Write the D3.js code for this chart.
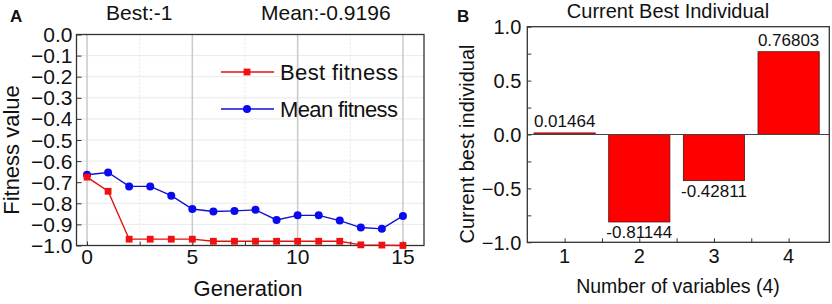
<!DOCTYPE html>
<html>
<head>
<meta charset="utf-8">
<script src="https://cdn.jsdelivr.net/npm/d3@7"></script>
<style>
  body { margin: 0; background: #fff; }
  svg text { font-family: "Liberation Sans", Arial, sans-serif; fill: #111; }
</style>
</head>
<body>
<div id="chart"></div>
<script>
// ---- data (panel A) ----
const generations = [0, 1, 2, 3, 4, 5, 6, 7, 8, 9, 10, 11, 12, 13, 14, 15];
const bestFitness = [-0.676, -0.743, -0.970, -0.970, -0.970, -0.970, -0.980, -0.980, -0.980, -0.980, -0.980, -0.980, -0.980, -0.997, -0.998, -1.0];
const meanFitness = [-0.665, -0.654, -0.720, -0.720, -0.764, -0.827, -0.839, -0.836, -0.831, -0.879, -0.857, -0.857, -0.882, -0.915, -0.921, -0.860];
const genTicks = [0, 5, 10, 15];
const genMinorTicks = [2.5, 7.5, 12.5];
const fitTicks = [0, -0.1, -0.2, -0.3, -0.4, -0.5, -0.6, -0.7, -0.8, -0.9, -1.0];

// ---- data (panel B) ----
const variables = [1, 2, 3, 4];
const bestIndividual = [0.01464, -0.81144, -0.42811, 0.76803];
const indivTicks = [1.0, 0.5, 0.0, -0.5, -1.0];
const indivMinorTicks = [0.75, 0.25, -0.25, -0.75];
const varMinorTicks = [1.5, 2.5, 3.5];

const W = 832, H = 304;
const svg = d3.select("#chart").append("svg")
    .attr("width", W)
    .attr("height", H);

const fmt1 = d3.format(".1f");

// =============== Panel A ===============
const A = { left: 76.5, right: 424, top: 34.5, bottom: 245.5 };

const xA = d3.scaleLinear().domain([-0.5, 16]).range([A.left, A.right]);
const yA = d3.scaleLinear().domain([-1, 0]).range([A.bottom, A.top]);

const gA = svg.append("g");

// horizontal grid
gA.selectAll(".hgrid").data(fitTicks.slice(1, -1)).enter().append("line")
    .attr("x1", A.left).attr("x2", A.right)
    .attr("y1", d => yA(d)).attr("y2", d => yA(d))
    .attr("stroke", "#e9e9e9").attr("stroke-width", 1);

// minor vertical grid
gA.selectAll(".vgridm").data(genMinorTicks).enter().append("line")
    .attr("x1", d => xA(d)).attr("x2", d => xA(d))
    .attr("y1", A.top).attr("y2", A.bottom)
    .attr("stroke", "#e6e6e6").attr("stroke-width", 1)
    .attr("stroke-dasharray", "2,2");

// major vertical grid
gA.selectAll(".vgrid").data(genTicks).enter().append("line")
    .attr("x1", d => xA(d)).attr("x2", d => xA(d))
    .attr("y1", A.top).attr("y2", A.bottom)
    .attr("stroke", "#c9c9c9").attr("stroke-width", 1.5);

// axes (ticks pointing inward)
gA.append("g")
    .attr("transform", `translate(${A.left},0)`)
    .call(d3.axisRight(yA).tickValues(fitTicks).tickSize(5).tickFormat(""))
    .call(g => g.select(".domain").remove())
    .selectAll("line").attr("stroke", "#333");

gA.selectAll(".ylab").data(fitTicks).enter().append("text")
    .attr("x", A.left - 4)
    .attr("y", d => yA(d))
    .attr("dy", "0.36em")
    .attr("text-anchor", "end")
    .attr("font-size", 21)
    .text(d => fmt1(d));

gA.append("g")
    .attr("transform", `translate(0,${A.bottom})`)
    .call(d3.axisTop(xA).tickValues(genTicks.concat(genMinorTicks)).tickSize(4).tickFormat(""))
    .call(g => g.select(".domain").remove())
    .selectAll("line").attr("stroke", "#333");

gA.selectAll(".xlab").data(genTicks).enter().append("text")
    .attr("x", d => xA(d))
    .attr("y", 264)
    .attr("text-anchor", "middle")
    .attr("font-size", 21)
    .text(d => d);

// frame
gA.append("rect")
    .attr("x", A.left).attr("y", A.top)
    .attr("width", A.right - A.left).attr("height", A.bottom - A.top)
    .attr("fill", "none").attr("stroke", "#333").attr("stroke-width", 1.3);

// lines
const bestData = generations.map((g, i) => ({ g: g, v: bestFitness[i] }));
const meanData = generations.map((g, i) => ({ g: g, v: meanFitness[i] }));
const lineA = d3.line().x(d => xA(d.g)).y(d => yA(d.v));

gA.append("path").datum(meanData)
    .attr("d", lineA).attr("fill", "none")
    .attr("stroke", "#1010d0").attr("stroke-width", 1.4);
gA.selectAll(".meanPt").data(meanData).enter().append("circle")
    .attr("cx", d => xA(d.g)).attr("cy", d => yA(d.v))
    .attr("r", 4).attr("fill", "#0a0af0");

gA.append("path").datum(bestData)
    .attr("d", lineA).attr("fill", "none")
    .attr("stroke", "#e01010").attr("stroke-width", 1.4);
gA.selectAll(".bestPt").data(bestData).enter().append("rect")
    .attr("x", d => xA(d.g) - 3.4).attr("y", d => yA(d.v) - 3.4)
    .attr("width", 6.8).attr("height", 6.8).attr("fill", "#f01010");

// legend
const legend = [
    { label: "Best fitness", color: "#e01010", fill: "#f01010", shape: "square", y: 72 },
    { label: "Mean fitness", color: "#1010d0", fill: "#0a0af0", shape: "circle", y: 109 }
];
legend.forEach(l => {
    gA.append("line").attr("x1", 221).attr("x2", 274)
        .attr("y1", l.y).attr("y2", l.y)
        .attr("stroke", l.color).attr("stroke-width", 1.4);
    if (l.shape === "square") {
        gA.append("rect").attr("x", 247 - 3.4).attr("y", l.y - 3.4)
            .attr("width", 6.8).attr("height", 6.8).attr("fill", l.fill);
    } else {
        gA.append("circle").attr("cx", 247).attr("cy", l.y).attr("r", 4).attr("fill", l.fill);
    }
    gA.append("text").attr("x", 280).attr("y", l.y).attr("dy", "0.36em")
        .attr("font-size", 22).attr("textLength", 118).text(l.label);
});

// titles / labels
gA.append("text").attr("x", 106).attr("y", 20).attr("font-size", 21).text("Best:-1");
gA.append("text").attr("x", 261).attr("y", 20).attr("font-size", 21).text("Mean:-0.9196");
gA.append("text").attr("x", 10).attr("y", 22).attr("font-size", 17)
    .attr("font-weight", "bold").text("A");
gA.append("text").attr("x", 248).attr("y", 296).attr("text-anchor", "middle")
    .attr("font-size", 22).text("Generation");
gA.append("text")
    .attr("transform", `translate(19,150) rotate(-90)`)
    .attr("text-anchor", "middle")
    .attr("font-size", 22).text("Fitness value");

// =============== Panel B ===============
const B = { left: 527.3, right: 829.3, top: 26.7, bottom: 242.3 };

const xB = d3.scaleLinear().domain([0.5, 4.545]).range([B.left, B.right]);
const yB = d3.scaleLinear().domain([-1, 1]).range([B.bottom, B.top]);
const barW = 0.82;

const gB = svg.append("g");

// bars
gB.selectAll(".bar").data(variables).enter().append("rect")
    .attr("x", d => xB(d - barW / 2))
    .attr("width", xB(barW) - xB(0))
    .attr("y", (d, i) => yB(Math.max(0, bestIndividual[i])))
    .attr("height", (d, i) => Math.abs(yB(bestIndividual[i]) - yB(0)))
    .attr("fill", "#ff0000")
    .attr("stroke", "#5a1010").attr("stroke-width", 0.8);

// zero line
gB.append("line")
    .attr("x1", B.left).attr("x2", B.right)
    .attr("y1", yB(0)).attr("y2", yB(0))
    .attr("stroke", "#444").attr("stroke-width", 1);

// axes ticks inward
gB.append("g")
    .attr("transform", `translate(${B.left},0)`)
    .call(d3.axisRight(yB).tickValues(indivTicks.concat(indivMinorTicks)).tickSize(4).tickFormat(""))
    .call(g => g.select(".domain").remove())
    .selectAll("line").attr("stroke", "#333");

gB.selectAll(".ylabB").data(indivTicks).enter().append("text")
    .attr("x", B.left - 6)
    .attr("y", d => yB(d))
    .attr("dy", "0.36em")
    .attr("text-anchor", "end")
    .attr("font-size", 20)
    .text(d => fmt1(d));

gB.append("g")
    .attr("transform", `translate(0,${B.bottom})`)
    .call(d3.axisTop(xB).tickValues(variables.concat(varMinorTicks)).tickSize(4).tickFormat(""))
    .call(g => g.select(".domain").remove())
    .selectAll("line").attr("stroke", "#333");

gB.selectAll(".xlabB").data(variables).enter().append("text")
    .attr("x", d => xB(d))
    .attr("y", 263)
    .attr("text-anchor", "middle")
    .attr("font-size", 20)
    .text(d => d);

// frame
gB.append("rect")
    .attr("x", B.left).attr("y", B.top)
    .attr("width", B.right - B.left).attr("height", B.bottom - B.top)
    .attr("fill", "none").attr("stroke", "#333").attr("stroke-width", 1.3);

// value labels
gB.selectAll(".val").data(variables).enter().append("text")
    .attr("x", d => xB(d))
    .attr("y", (d, i) => bestIndividual[i] >= 0 ? yB(bestIndividual[i]) - 6 : yB(bestIndividual[i]) + 16)
    .attr("text-anchor", "middle")
    .attr("font-size", 17)
    .text((d, i) => bestIndividual[i].toFixed(5));

// titles / labels
gB.append("text").attr("x", 668).attr("y", 18).attr("text-anchor", "middle")
    .attr("font-size", 20).text("Current Best Individual");
gB.append("text").attr("x", 457).attr("y", 22).attr("font-size", 17)
    .attr("font-weight", "bold").text("B");
gB.append("text").attr("x", 678).attr("y", 293).attr("text-anchor", "middle")
    .attr("font-size", 19.5).text("Number of variables (4)");
gB.append("text")
    .attr("transform", `translate(474,144) rotate(-90)`)
    .attr("text-anchor", "middle")
    .attr("font-size", 20).text("Current best individual");
</script>
</body>
</html>
